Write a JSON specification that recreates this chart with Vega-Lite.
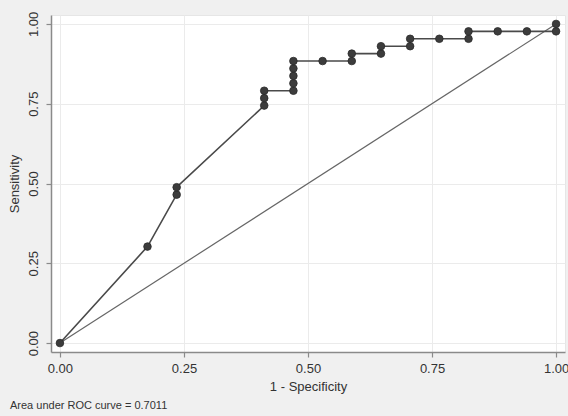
{
  "$schema": "https://vega.github.io/schema/vega-lite/v6.json",
  "autosize": {"type": "none"},
  "width": 514,
  "height": 337,
  "padding": {"left": 51, "top": 15, "right": 3, "bottom": 64},
  "background": "#f0f0f0",
  "config": {
    "font": "Liberation Sans",
    "view": {"fill": "white", "stroke": "#e6e6e6"},
    "axis": {
      "domainColor": "#8a8a8a",
      "domainWidth": 1.5,
      "tickColor": "#8a8a8a",
      "tickSize": 5,
      "tickWidth": 1.2,
      "gridColor": "#ebebeb",
      "gridWidth": 1,
      "labelFont": "Liberation Sans",
      "labelFontSize": 13,
      "labelColor": "#333333",
      "titleFont": "Liberation Sans",
      "titleFontSize": 13,
      "titleFontWeight": "normal",
      "titleColor": "#333333"
    }
  },
  "title": {
    "text": "Area under ROC curve = 0.7011",
    "orient": "bottom",
    "anchor": "start",
    "font": "Liberation Sans",
    "fontSize": 11,
    "fontWeight": "normal",
    "color": "#333333",
    "offset": 7,
    "dx": 2
  },
  "datasets": {
    "roc": [
      {"ord": 1, "fpr": 0, "tpr": 0},
      {"ord": 2, "fpr": 0.17647, "tpr": 0.30233},
      {"ord": 3, "fpr": 0.23529, "tpr": 0.46512},
      {"ord": 4, "fpr": 0.23529, "tpr": 0.48837},
      {"ord": 5, "fpr": 0.41176, "tpr": 0.74419},
      {"ord": 6, "fpr": 0.41176, "tpr": 0.76744},
      {"ord": 7, "fpr": 0.41176, "tpr": 0.7907},
      {"ord": 8, "fpr": 0.47059, "tpr": 0.7907},
      {"ord": 9, "fpr": 0.47059, "tpr": 0.81395},
      {"ord": 10, "fpr": 0.47059, "tpr": 0.83721},
      {"ord": 11, "fpr": 0.47059, "tpr": 0.86047},
      {"ord": 12, "fpr": 0.47059, "tpr": 0.88372},
      {"ord": 13, "fpr": 0.52941, "tpr": 0.88372},
      {"ord": 14, "fpr": 0.58824, "tpr": 0.88372},
      {"ord": 15, "fpr": 0.58824, "tpr": 0.90698},
      {"ord": 16, "fpr": 0.64706, "tpr": 0.90698},
      {"ord": 17, "fpr": 0.64706, "tpr": 0.93023},
      {"ord": 18, "fpr": 0.70588, "tpr": 0.93023},
      {"ord": 19, "fpr": 0.70588, "tpr": 0.95349},
      {"ord": 20, "fpr": 0.76471, "tpr": 0.95349},
      {"ord": 21, "fpr": 0.82353, "tpr": 0.95349},
      {"ord": 22, "fpr": 0.82353, "tpr": 0.97674},
      {"ord": 23, "fpr": 0.88235, "tpr": 0.97674},
      {"ord": 24, "fpr": 0.94118, "tpr": 0.97674},
      {"ord": 25, "fpr": 1, "tpr": 0.97674},
      {"ord": 26, "fpr": 1, "tpr": 1}
    ],
    "diag": [
      {"fpr": 0, "tpr": 0},
      {"fpr": 1, "tpr": 1}
    ]
  },
  "layer": [
    {
      "data": {"name": "diag"},
      "mark": {"type": "line", "color": "#666666", "strokeWidth": 1.2},
      "encoding": {
        "x": {"field": "fpr", "type": "quantitative"},
        "y": {"field": "tpr", "type": "quantitative"}
      }
    },
    {
      "data": {"name": "roc"},
      "mark": {"type": "line", "color": "#4a4a4a", "strokeWidth": 1.6},
      "encoding": {
        "x": {"field": "fpr", "type": "quantitative"},
        "y": {"field": "tpr", "type": "quantitative"},
        "order": {"field": "ord", "type": "quantitative"}
      }
    },
    {
      "data": {"name": "roc"},
      "mark": {"type": "point", "filled": true, "color": "#3c3c3c", "size": 58, "opacity": 1, "stroke": "#2a2a2a", "strokeWidth": 0.8},
      "encoding": {
        "x": {
          "field": "fpr",
          "type": "quantitative",
          "scale": {"domain": [-0.018, 1.018], "nice": false, "zero": false},
          "axis": {"values": [0, 0.25, 0.5, 0.75, 1], "format": ".2f", "title": "1 - Specificity", "labelPadding": 5, "titlePadding": 5}
        },
        "y": {
          "field": "tpr",
          "type": "quantitative",
          "scale": {"domain": [-0.028, 1.028], "nice": false, "zero": false},
          "axis": {"values": [0, 0.25, 0.5, 0.75, 1], "format": ".2f", "title": "Sensitivity", "labelAngle": 270, "labelAlign": "center", "labelBaseline": "bottom", "labelPadding": 6, "titlePadding": 6}
        }
      }
    }
  ]
}
